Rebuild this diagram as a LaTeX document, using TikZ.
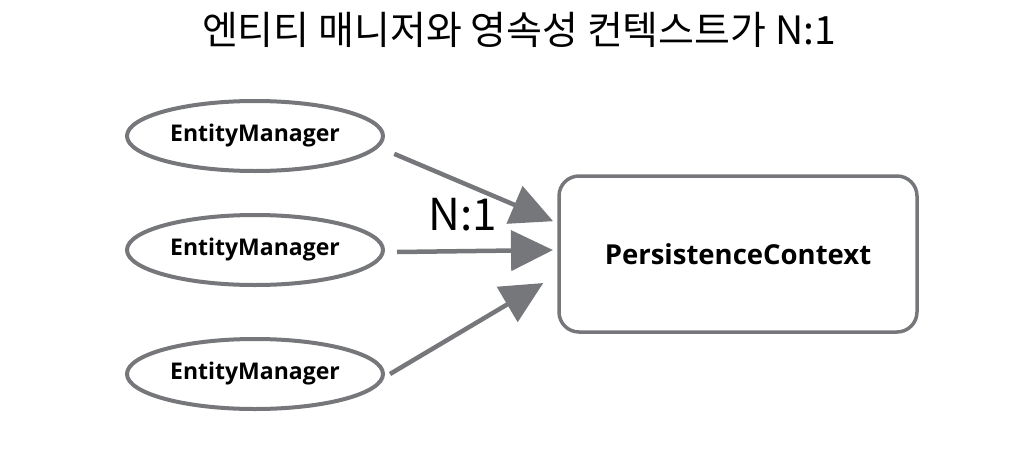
\documentclass[tikz,border=0pt]{standalone}
\usepackage{fontspec}
\setmainfont{Open Sans}
\newfontfamily\krfont{Noto Sans CJK KR}
\usetikzlibrary{arrows.meta,shapes.geometric}
\definecolor{sketch}{HTML}{76777A}
\tikzset{
  emnode/.style={ellipse, draw=sketch, line width=4pt, minimum width=256pt, minimum height=70pt, font=\fontsize{23}{26}\selectfont\bfseries},
  pcnode/.style={rectangle, rounded corners=20pt, draw=sketch, line width=3.5pt, minimum width=358pt, minimum height=156pt, font=\fontsize{27.5}{30}\selectfont\bfseries},
  conn/.style={draw=sketch, line width=4.5pt, -{Triangle[length=42pt,width=40pt]}, shorten >=2pt}
}
\begin{document}
\begin{tikzpicture}[x=1pt,y=-1pt]
\useasboundingbox (0,0) rectangle (1009,455);
\node (title) at (519,30) {\krfont\fontsize{39}{44}\selectfont 엔티티 매니저와 영속성 컨텍스트가 N:1};
\node[emnode] (em1) at (255,136) {EntityManager};
\node[emnode] (em2) at (255,250) {EntityManager};
\node[emnode] (em3) at (255,374) {EntityManager};
\node[pcnode] (pc) at (738,254) {PersistenceContext};
\coordinate (t1) at (555,222);
\coordinate (t2) at (555,250);
\coordinate (t3) at (545,282);
\draw[conn] (em1.-5) ++(15,7) -- (t1);
\draw[conn] (em2.east) ++(12,2) -- (t2);
\draw[conn] (em3.east) ++(5,0) -- (t3);
\node (lbl) at (463,215) {\krfont\fontsize{44}{50}\selectfont N:1};
\end{tikzpicture}
\end{document}
